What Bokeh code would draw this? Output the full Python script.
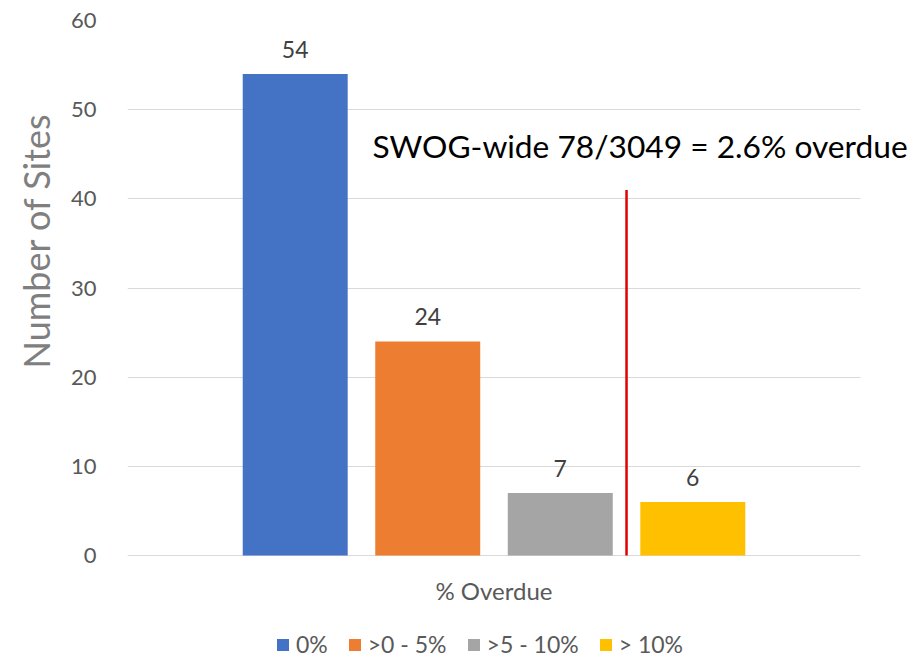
from bokeh.plotting import figure
from bokeh.models import (ColumnDataSource, Range1d, FixedTicker, Label,
                          Legend, LegendItem, Title, Grid)
from bokeh.embed import file_html
from bokeh.resources import INLINE
from bokeh.core.properties import value

# ---- data ----
categories = ["% Overdue"]
series_names = ["0%", ">0 - 5%", ">5 - 10%", "> 10%"]
series_values = [54, 24, 7, 6]
series_colors = ["#4472C4", "#ED7D31", "#A5A5A5", "#FFC000"]
y_ticks = [0, 10, 20, 30, 40, 50, 60]
marker_top = 41
annotation = "SWOG-wide 78/3049 = 2.6% overdue"
y_title = "Number of Sites"

FONT = "Lato"
step = 0.1808
bar_w = 0.1432
offsets = [(i - 1.5) * step for i in range(len(series_names))]
cat_centers = [i + 0.5 for i in range(len(categories))]

p = figure(width=907, height=658, x_range=Range1d(0, 780 / 733), y_range=Range1d(-11.55, 60),
           output_backend="svg", toolbar_location=None,
           min_border_left=127, min_border_right=0, min_border_top=20, min_border_bottom=0)
p.outline_line_color = None
p.xgrid.grid_line_color = None
p.xaxis.visible = False

p.yaxis.ticker = FixedTicker(ticks=y_ticks)
p.yaxis.axis_line_color = None
p.yaxis.major_tick_line_color = None
p.yaxis.minor_tick_line_color = None
p.yaxis.major_label_standoff = 25
p.yaxis.major_label_text_font = FONT
p.yaxis.major_label_text_font_size = "22px"
p.yaxis.major_label_text_color = "#595959"

if "cross_bounds" in Grid.properties():
    p.ygrid.grid_line_color = "#D9D9D9"
    p.ygrid.grid_line_width = 1
    p.ygrid.cross_bounds = (0, 1)
else:
    p.ygrid.grid_line_color = None
    gsrc = ColumnDataSource(dict(y=y_ticks, x0=[0] * len(y_ticks), x1=[1] * len(y_ticks)))
    p.segment(x0="x0", x1="x1", y0="y", y1="y", source=gsrc, line_color="#D9D9D9",
              line_width=1, level="underlay")

cat_src = ColumnDataSource(dict(x=cat_centers, base=[0] * len(categories), cat=categories))
p.text(x="x", y="base", text="cat", source=cat_src, text_align="center",
       text_baseline="middle", y_offset=35, text_font=value(FONT),
       text_font_size="24px", text_color="#595959")

items = []
for name, v, c, off in zip(series_names, series_values, series_colors, offsets):
    src = ColumnDataSource(dict(x=[cx + off for cx in cat_centers], val=[v], lbl=[str(v)]))
    r = p.vbar(x="x", top="val", width=bar_w, source=src, fill_color=c, line_color=None)
    p.text(x="x", y="val", text="lbl", source=src,
           text_align="center", text_baseline="middle", y_offset=-25,
           text_font=value(FONT), text_font_size="23px", text_color="#404040")
    items.append(LegendItem(label=name, renderers=[r]))

line_x = [cx + offsets[2] + step / 2 for cx in cat_centers]
line_src = ColumnDataSource(dict(x=line_x, top=[marker_top], base=[0]))
p.segment(x0="x", y0="base", x1="x", y1="top", source=line_src,
          line_color="#E00000", line_width=2.5)

p.add_layout(Label(x=245, y=513, x_units="screen", y_units="screen", text=annotation,
                   text_baseline="middle",
                   text_font=FONT, text_font_size="31.7px", text_color="#000000"))

p.add_layout(Title(text=y_title, align="left", offset=290, standoff=20,
                   text_font=FONT, text_font_size="36px", text_font_style="normal",
                   text_color="#7F7F7F"), "left")

legend = Legend(items=items, orientation="horizontal", location=(148, 0),
                padding=0, margin=0, spacing=19, label_standoff=6,
                glyph_width=15, glyph_height=15,
                label_text_font=FONT, label_text_font_size="23px", label_text_color="#595959",
                border_line_color=None, background_fill_alpha=0)
p.add_layout(legend)

open("out.html", "w").write(file_html(p, INLINE))
